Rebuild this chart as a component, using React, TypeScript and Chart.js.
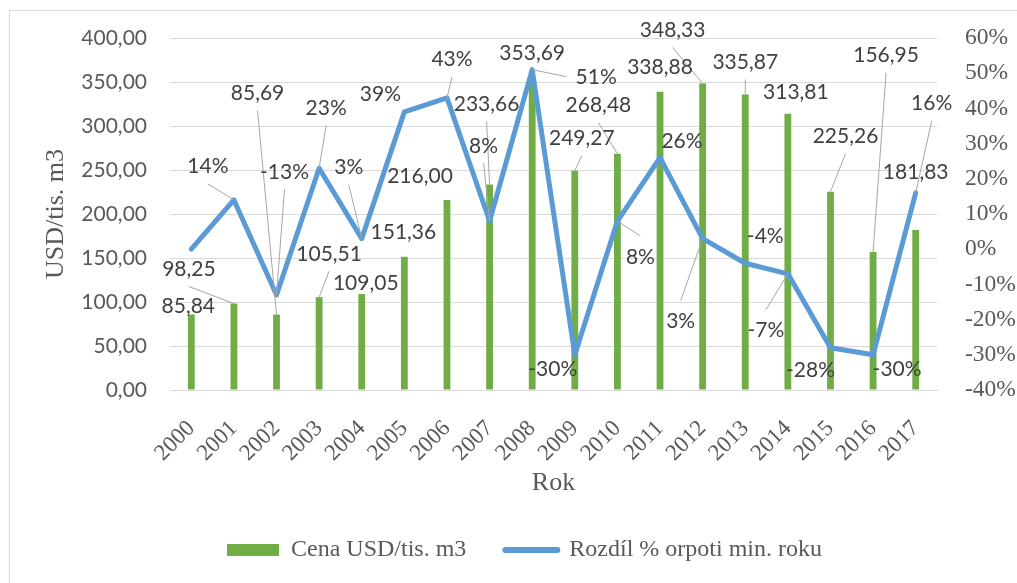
import React, { useEffect, useRef } from 'react';
import { Chart, registerables } from 'chart.js';

Chart.register(...registerables);

// ---- data ----
const years = ['2000', '2001', '2002', '2003', '2004', '2005', '2006', '2007', '2008', '2009', '2010', '2011', '2012', '2013', '2014', '2015', '2016', '2017'];
const prices = [85.84, 98.25, 85.69, 105.51, 109.05, 151.36, 216.0, 233.66, 353.69, 249.27, 268.48, 338.88, 348.33, 335.87, 313.81, 225.26, 156.95, 181.83];
const changes = [0, 14, -13, 23, 3, 39, 43, 8, 51, -30, 8, 26, 3, -4, -7, -28, -30, 16];
const priceTicks = { min: 0, max: 400, step: 50 };
const changeTicks = { min: -40, max: 60, step: 10 };
const seriesNames = ['Cena USD/tis. m3', 'Rozdíl % orpoti min. roku'];

// ---- label placement (offset from the mark in px, leader flag) ----
const priceLabelLayout: ([number, number, number] | null)[] = [
  [-3, -9, 0], [-45, -35, 1], [-19, -222, 1], [10, -44, 1], [4, -12, 0], [-1, -25, 0],
  [-27, -24, 0], [-3, -81, 1], [0, -26, 0], [7, -33, 1], [-19, -49, 1], [0, -25, 0],
  [-30, -54, 1], [0, -33, 1], [8, -22, 0], [15, -56, 1], [13, -197, 1], [0, -59, 0],
];
const changeLabelLayout: ([number, number, number] | null)[] = [
  null, [-26, -34, 1], [8, -124, 1], [7, -61, 1], [-13, -72, 1], [-24, -18, 0],
  [5, -39, 1], [-6, -76, 1], [64, 7, 1], [-22, 14, 0], [23, 35, 1], [22, -17, 0],
  [-22, 82, 1], [20, -28, 0], [-22, 56, 1], [-20, 22, 0], [24, 14, 0], [16, -90, 1],
];

const GREEN = '#70AD47';
const BLUE = '#5B9BD5';
const AXIS_TEXT = '#595959';
const LABEL_TEXT = '#404040';
const GRID = '#d9d9d9';
const SERIF = "'Liberation Serif', 'Times New Roman', serif";
const SANS = "Lato, 'Open Sans', sans-serif";
const LABEL_SIZE = 21;
const LEGEND_SHIFT = 16;

const fmtPrice = (v: number) => v.toFixed(2).replace('.', ',');
const fmtPct = (v: number) => `${v}%`;

const labelPlugin = {
  id: 'excelLabels',
  afterLayout(chart: any) {
    const lg = chart.legend;
    if (lg) {
      lg.left += LEGEND_SHIFT;
      lg.right += LEGEND_SHIFT;
    }
  },
  afterDatasetsDraw(chart: any) {
    const ctx = chart.ctx as CanvasRenderingContext2D;
    ctx.save();
    ctx.font = `${LABEL_SIZE}px ${SANS}`;
    const items: { text: string; cx: number; cy: number }[] = [];
    const collect = (dsIndex: number, texts: string[], layout: ([number, number, number] | null)[]) => {
      const meta = chart.getDatasetMeta(dsIndex);
      meta.data.forEach((el: any, i: number) => {
        const l = layout[i];
        if (!l) return;
        const px = el.x;
        const py = el.y;
        const cx = px + l[0];
        const cy = py + l[1];
        const text = texts[i];
        const w = ctx.measureText(text).width;
        if (l[2]) {
          let sx: number, sy: number;
          if (py > cy + 14) { sx = cx; sy = cy + 18; }
          else if (py < cy - 14) { sx = cx; sy = cy - 20; }
          else { sx = px < cx ? cx - w / 2 - 9 : cx + w / 2 + 9; sy = cy; }
          ctx.strokeStyle = '#a6a6a6';
          ctx.lineWidth = 1;
          ctx.beginPath();
          ctx.moveTo(sx, sy);
          ctx.lineTo(px, py);
          ctx.stroke();
        }
        items.push({ text, cx, cy });
      });
    };
    collect(0, prices.map(fmtPrice), priceLabelLayout);
    collect(1, changes.map(fmtPct), changeLabelLayout);
    ctx.fillStyle = LABEL_TEXT;
    ctx.textAlign = 'center';
    ctx.textBaseline = 'alphabetic';
    items.forEach((it) => ctx.fillText(it.text, it.cx, it.cy + LABEL_SIZE * 0.36));
    ctx.restore();
  },
};

export default function App() {
  const ref = useRef<HTMLCanvasElement | null>(null);

  useEffect(() => {
    if (!ref.current) return;
    const chart = new Chart(ref.current, {
      type: 'bar',
      data: {
        labels: years,
        datasets: [
          {
            type: 'bar',
            label: seriesNames[0],
            data: prices,
            backgroundColor: GREEN,
            borderWidth: 0,
            barPercentage: 0.16,
            categoryPercentage: 1,
            yAxisID: 'y',
            order: 1,
          },
          {
            type: 'line',
            label: seriesNames[1],
            data: changes,
            borderColor: BLUE,
            backgroundColor: BLUE,
            borderWidth: 5,
            pointRadius: 0,
            tension: 0,
            fill: false,
            borderCapStyle: 'round',
            borderJoinStyle: 'round',
            yAxisID: 'y1',
            order: 0,
          },
        ] as any,
      },
      options: {
        responsive: false,
        animation: false,
        devicePixelRatio: 1,
        layout: { padding: { top: 38, bottom: 11, left: 0, right: 0 } },
        plugins: {
          tooltip: { enabled: false },
          legend: {
            position: 'bottom',
            labels: {
              usePointStyle: true,
              pointStyleWidth: 52,
              boxHeight: 12,
              padding: 39,
              color: AXIS_TEXT,
              font: { family: SERIF, size: 24 },
              generateLabels: () => [
                { text: seriesNames[0], fillStyle: GREEN, strokeStyle: GREEN, lineWidth: 0, pointStyle: 'rect', datasetIndex: 0, hidden: false, fontColor: AXIS_TEXT },
                { text: seriesNames[1], fillStyle: BLUE, strokeStyle: BLUE, lineWidth: 6, lineCap: 'round', pointStyle: 'line', datasetIndex: 1, hidden: false, fontColor: AXIS_TEXT },
              ] as any,
            },
          },
        },
        scales: {
          x: {
            grid: { display: false },
            border: { color: GRID, width: 1 },
            ticks: {
              color: AXIS_TEXT,
              font: { family: SERIF, size: 23 },
              minRotation: 45,
              maxRotation: 45,
              padding: 17,
              autoSkip: false,
            },
            title: {
              display: true,
              text: 'Rok',
              color: AXIS_TEXT,
              font: { family: SERIF, size: 26 },
              padding: { top: 0, bottom: 0 },
            },
            afterFit: (s: any) => { s.height = 109; },
          },
          y: {
            position: 'left',
            min: priceTicks.min,
            max: priceTicks.max,
            ticks: {
              stepSize: priceTicks.step,
              color: AXIS_TEXT,
              font: { family: SANS, size: 21 },
              padding: 23,
              callback: (v: any) => fmtPrice(Number(v)),
            },
            grid: { color: GRID, drawTicks: false, lineWidth: 1 },
            border: { display: false },
            title: {
              display: true,
              text: 'USD/tis. m3',
              color: AXIS_TEXT,
              font: { family: SERIF, size: 26 },
              padding: { top: 41, bottom: 0 },
            },
            afterFit: (s: any) => { s.width = 170; },
          },
          y1: {
            position: 'right',
            min: changeTicks.min,
            max: changeTicks.max,
            ticks: {
              stepSize: changeTicks.step,
              color: AXIS_TEXT,
              font: { family: SERIF, size: 23.5 },
              padding: 20,
              callback: (v: any) => fmtPct(Number(v)),
            },
            grid: { display: false },
            border: { display: false },
            afterFit: (s: any) => { s.width = 80; },
          },
        },
      } as any,
      plugins: [labelPlugin],
    });
    return () => chart.destroy();
  }, []);

  return (
    <div style={{ position: 'fixed', left: 0, top: 0, width: 1017, height: 583, overflow: 'hidden', background: '#fff' }}>
      <div style={{ position: 'absolute', left: 9, top: 10, width: 1100, height: 1000, border: '1px solid #d9d9d9', boxSizing: 'border-box' }} />
      <canvas ref={ref} width={1017} height={583} style={{ position: 'absolute', left: 0, top: 0, width: 1017, height: 583 }} />
    </div>
  );
}
